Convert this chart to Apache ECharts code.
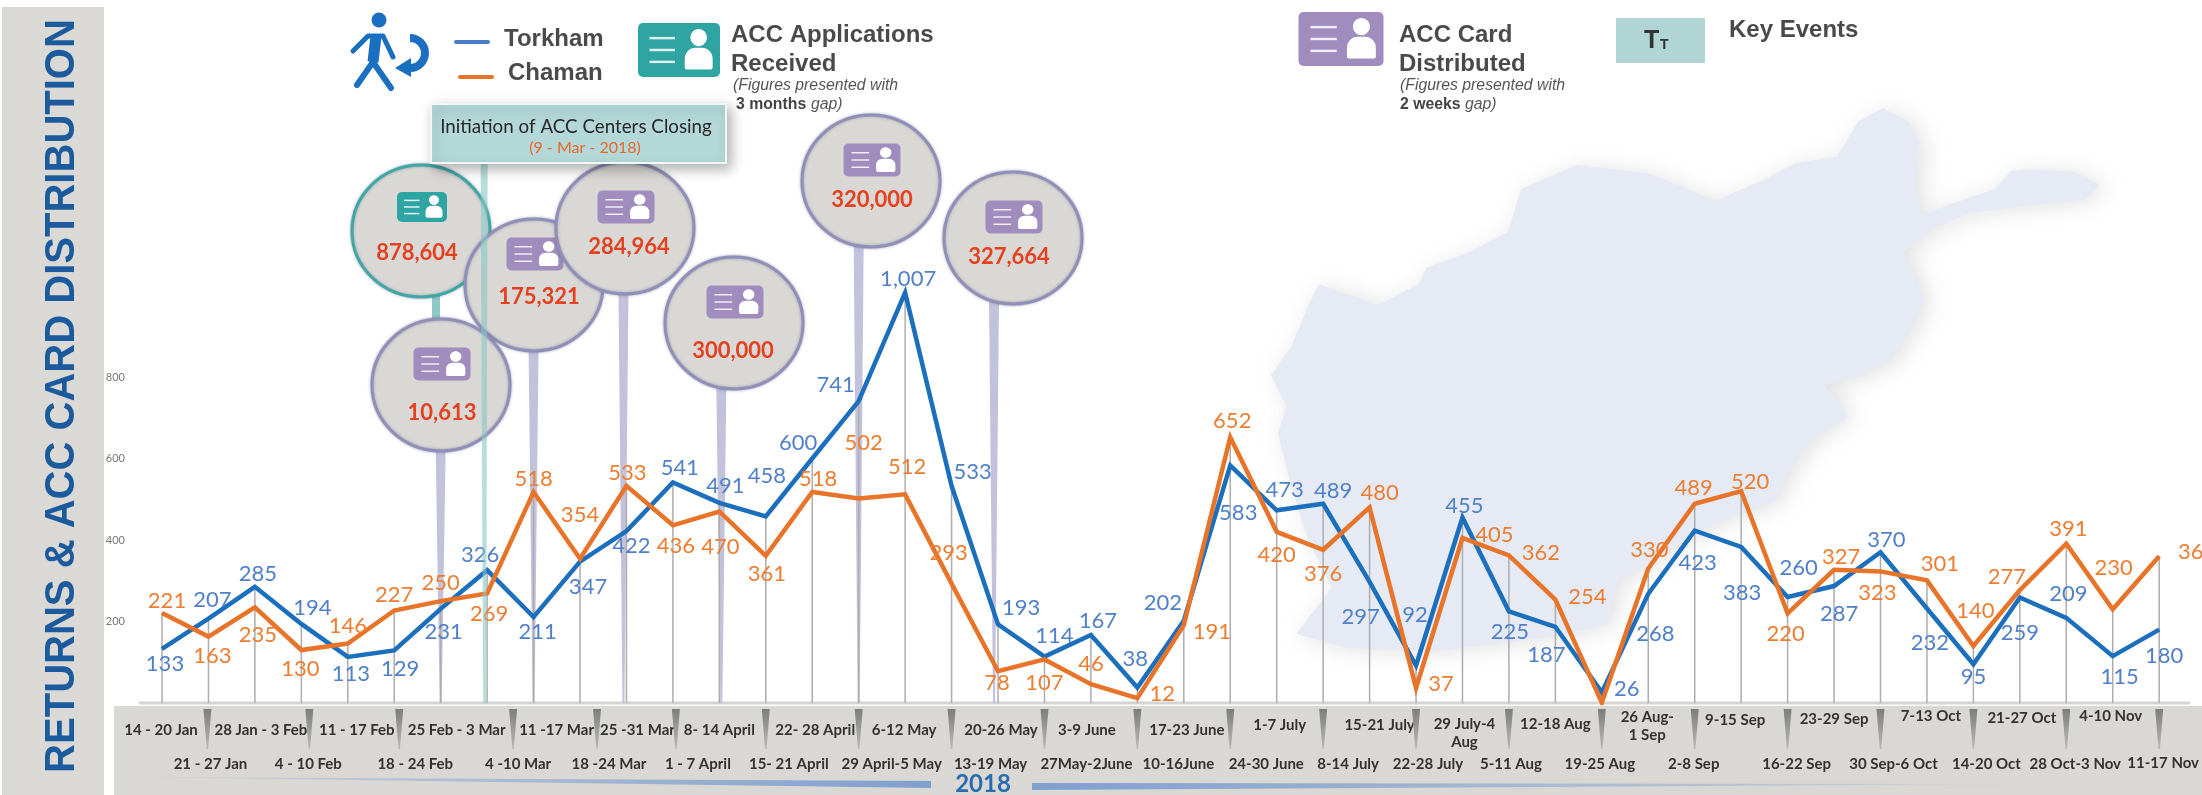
<!DOCTYPE html>
<html>
<head>
<meta charset="utf-8">
<title>Returns & ACC card distribution</title>
<script src="https://cdn.jsdelivr.net/npm/echarts@6/dist/echarts.min.js"></script>
<style>
html, body { margin: 0; padding: 0; background: #fff; }
#chart { width: 2202px; height: 795px; }
</style>
</head>
<body>
<div id="chart"></div>
<script>
// weekly periods of 2018, \n = label wraps in two lines
const weeks = ['14 - 20 Jan', '21 - 27 Jan', '28 Jan - 3 Feb', '4 - 10 Feb', '11 - 17 Feb', '18 - 24 Feb', '25 Feb - 3 Mar', '4 -10 Mar', '11 -17 Mar', '18 -24 Mar', '25 -31 Mar', '1 - 7 April', '8- 14 April', '15- 21 April', '22- 28 April', '29 April-5 May', '6-12 May', '13-19 May', '20-26 May', '27May-2June', '3-9 June', '10-16June', '17-23 June', '24-30 June', '1-7 July', '8-14 July', '15-21 July', '22-28 July', '29 July-4\nAug', '5-11 Aug', '12-18 Aug', '19-25 Aug', '26 Aug-\n1 Sep', '2-8 Sep', '9-15 Sep', '16-22 Sep', '23-29 Sep', '30 Sep-6 Oct', '7-13 Oct', '14-20 Oct', '21-27 Oct', '28 Oct-3 Nov', '4-10 Nov', '11-17 Nov'];
const torkham = [133, 207, 285, 194, 113, 129, 231, 326, 211, 347, 422, 541, 491, 458, 600, 741, 1007, 533, 193, 114, 167, 38, 202, 583, 473, 489, 297, 92, 455, 225, 187, 26, 268, 423, 383, 260, 287, 370, 232, 95, 259, 209, 115, 180];
const chaman = [221, 163, 235, 130, 146, 227, 250, 269, 518, 354, 533, 436, 470, 361, 518, 502, 512, 293, 78, 107, 46, 12, 191, 652, 420, 376, 480, 37, 405, 362, 254, 1, 330, 489, 520, 220, 327, 323, 301, 140, 277, 391, 230, 360];
const yTicks = [200, 400, 600, 800];

// the bubbles: figure, week it points to
const cardFigures = ['10,613', '175,321', '284,964', '300,000', '320,000', '327,664'];
const cardWeeks = [6, 8, 10, 12, 15, 18];
const applicationFigure = '878,604';
const eventWeek = 7;

// hand placed label offsets, the original is laid out by hand
const torkhamShift = [[3, 15], [4, -19], [3, -13], [11, -16], [3, 17], [6, 18], [3, 23], [-7, -15], [4, 15], [8, 25], [5, 15], [7, -15], [6, -17], [1, -40], [-14, -16], [-23, -16], [3, -14], [21, -14], [23, -16], [10, -21], [7, -14], [-2, -29], [-21, -18], [8, 47], [8, -20], [10, -13], [-9, 35], [-1, -51], [2, -12], [1, 21], [-9, 28], [25, -3], [7, 40], [3, 32], [1, 46], [11, -29], [5, 28], [6, -12], [3, 34], [0, 13], [0, 35], [2, -24], [7, 21], [5, 26]];
const chamanShift = [[5, -12], [4, 19], [3, 28], [-1, 19], [0, -18], [0, -16], [0, -18], [2, 21], [0, -13], [0, -44], [1, -13], [3, 21], [1, 35], [1, 18], [6, -13], [5, -56], [2, -27], [-3, -31], [-1, 12], [0, 24], [0, -20], [25, -4], [28, 7], [2, -16], [0, 23], [0, 24], [10, -14], [25, -4], [32, -3], [32, -3], [32, -3], null, [1, -19], [-1, -16], [9, -9], [-2, 21], [7, -13], [-3, 22], [13, -16], [2, -35], [-13, -13], [2, -15], [1, -41], [38, -4]];
const weekLabelDx = [-1, 2, 6, 7, 9, 21, 16, 31, 23, 29, 11, 25, 0, 23, 3, 33, -1, 39, 3, 42, -4, 41, 3, 36, 3, 25, 10, 12, 2, 2, 0, -2, -1, -1, -6, 9, 0, 13, 4, 13, 2, 9, -2, 4];
const weekLabelY = [730, 764, 730, 764, 730, 764, 730, 764, 730, 764, 730, 764, 730, 764, 730, 764, 730, 764, 730, 764, 730, 764, 730, 764, 725, 764, 725, 764, 724, 764, 724, 764, 717, 764, 720, 764, 719, 764, 716, 764, 718, 764, 716, 763];
const wedgeShift = [-1, 8, 5, 26, 17, 3];

const blueLine = '#1b6fbd';
const orangeLine = '#e8742a';
const blueText = '#4f80c9';
const orangeText = '#ed7d31';
const labelFont = 'Lato';
const headFont = '"Liberation Sans"';

const weekRich = {};
const weekFormat = (name, i) => {
    const dx = weekLabelDx[i];
    const left = dx > 0 ? dx * 2 : 0;
    const right = dx < 0 ? -dx * 2 : 0;
    // a thin empty line on top pushes the text down to its row
    weekRich['g' + i] = { fontSize: 1, lineHeight: weekLabelY[i] - 714, color: 'transparent' };
    weekRich['w' + i] = { fontFamily: labelFont, fontWeight: 'bold', fontSize: 15, color: '#33322f', lineHeight: 18, padding: [0, right, 0, left] };
    const rows = name.split('\n').map(p => '{w' + i + '|' + p + '}');
    return ['{g' + i + '|\u00a0}'].concat(rows).join('\n');
};
const weekText = weeks.map(weekFormat);

const pointLabels = (values, shifts, color) => values.map((v, i) => ({
    value: v,
    label: shifts[i] ? {
        show: true,
        position: 'inside',
        offset: shifts[i],
        color: color,
        fontFamily: labelFont,
        fontSize: 22,
        formatter: () => v >= 1000 ? v.toLocaleString('en-US') : String(v)
    } : { show: false }
}));

const chart = echarts.init(document.getElementById('chart'));

chart.setOption({
    backgroundColor: '#fff',
    animation: false,
    grid: { left: 162, right: 41, top: 51, bottom: 92 },
    xAxis: {
        type: 'category',
        boundaryGap: false,
        data: weeks,
        axisLine: { show: false },
        axisTick: { show: false },
        axisLabel: {
            interval: 0,
            margin: 2,
            hideOverlap: false,
            formatter: (v, i) => weekText[i],
            rich: weekRich
        }
    },
    yAxis: {
        type: 'value',
        min: 0,
        max: 1600,
        interval: 200,
        splitLine: { show: false },
        axisLine: { show: false },
        axisTick: { show: false },
        axisLabel: {
            margin: 37,
            color: '#777',
            fontFamily: labelFont,
            fontSize: 11,
            formatter: v => yTicks.includes(v) ? String(v) : ''
        }
    },
    series: [
        {
            // drop lines from each week up to the highest point
            type: 'custom',
            z: 1,
            silent: true,
            data: torkham.map((t, i) => [i, Math.max(t, chaman[i])]),
            renderItem: (params, api) => {
                const a = api.coord([api.value(0), 0]);
                const b = api.coord([api.value(0), api.value(1)]);
                return {
                    type: 'line',
                    shape: { x1: a[0], y1: a[1], x2: b[0], y2: b[1] },
                    style: { stroke: '#adadad', lineWidth: 1.5 }
                };
            }
        },
        {
            // small wedges inside the grey band, every second week
            type: 'custom',
            z: 2,
            silent: true,
            clip: false,
            data: weeks.map((w, i) => [i, 0]).filter(d => d[0] % 2 === 1),
            renderItem: (params, api) => {
                const i = api.value(0);
                const p = api.coord([i, 0]);
                const x = p[0] + (wedgeShift[(i - 1) / 2] || 0);
                return {
                    type: 'polygon',
                    shape: { points: [[x - 4, p[1] + 6], [x + 4, p[1] + 6], [x + 0.7, p[1] + 46], [x - 0.7, p[1] + 46]] },
                    style: {
                        fill: new echarts.graphic.LinearGradient(0, 0, 0, 1, [
                            { offset: 0, color: '#7d7d7d' },
                            { offset: 1, color: '#b9b9b7' }
                        ])
                    }
                };
            }
        },
        {
            name: 'Torkham',
            type: 'line',
            z: 3,
            symbol: 'circle',
            symbolSize: 1,
            showSymbol: true,
            showAllSymbol: true,
            lineStyle: { color: blueLine, width: 4.5, join: 'miter' },
            itemStyle: { color: blueLine },
            data: pointLabels(torkham, torkhamShift, blueText)
        },
        {
            name: 'Chaman',
            type: 'line',
            z: 4,
            symbol: 'circle',
            symbolSize: 1,
            showSymbol: true,
            showAllSymbol: true,
            lineStyle: { color: orangeLine, width: 4.5, join: 'miter' },
            itemStyle: { color: orangeLine },
            data: pointLabels(chaman, chamanShift, orangeText)
        }
    ]
});

// --- everything around the plot ---

const text = (str, x, y, font, fill, align, z) => ({
    type: 'text',
    z: z || 6,
    style: { text: str, x: x, y: y, font: font, fill: fill, textAlign: align || 'left', textVerticalAlign: 'middle' }
});

// card icon used in legend and bubbles
const card = (cx, cy, w, h, color, z) => {
    const x = cx - w / 2;
    const y = cy - h / 2;
    const lines = [0.28, 0.5, 0.72].map(k => ({
        type: 'line',
        z: z,
        shape: { x1: x + w * 0.14, y1: y + h * k, x2: x + w * 0.45, y2: y + h * k },
        style: { stroke: '#fff', lineWidth: Math.max(1.5, h * 0.045), opacity: 0.85 }
    }));
    return [
        { type: 'rect', z: z, shape: { x: x, y: y, width: w, height: h, r: 5 }, style: { fill: color } },
        ...lines,
        { type: 'ellipse', z: z, shape: { cx: x + w * 0.74, cy: y + h * 0.27, rx: w * 0.1, ry: h * 0.16 }, style: { fill: '#fff' } },
        { type: 'rect', z: z, shape: { x: x + w * 0.57, y: y + h * 0.46, width: w * 0.34, height: h * 0.4, r: [h * 0.2, h * 0.2, 2, 2] }, style: { fill: '#fff' } }
    ];
};

const bubble = (cx, cy, label, color, stroke, iconDy, textDx, textDy, z) => [
    {
        type: 'ellipse',
        z: z,
        shape: { cx: cx, cy: cy, rx: 69, ry: 66 },
        style: { fill: '#d9d8d5', stroke: stroke, lineWidth: 3, shadowBlur: 3, shadowColor: 'rgba(90,90,130,0.5)' }
    },
    ...card(cx + 1, cy + iconDy, stroke === '#3da8a4' ? 50 : 57, stroke === '#3da8a4' ? 30 : 33, color, z),
    text(label, cx + textDx, cy + textDy, 'bold 22px ' + labelFont, '#e5401f', 'center', z)
];

const mapOutline = [[1883, 108], [1909, 122], [1919, 141], [1916, 185], [1921, 215], [1954, 203], [1995, 189], [2011, 171], [2030, 169], [2075, 172], [2100, 185], [2085, 200], [2030, 205], [1970, 213], [1934, 228], [1903, 252], [1916, 276], [1924, 300], [1914, 323], [1893, 359], [1863, 375], [1824, 385], [1840, 402], [1847, 418], [1817, 434], [1791, 466], [1776, 501], [1720, 521], [1674, 545], [1653, 561], [1618, 580], [1608, 624], [1557, 636], [1434, 651], [1347, 648], [1296, 634], [1332, 588], [1307, 537], [1291, 485], [1278, 434], [1286, 406], [1271, 375], [1291, 347], [1309, 304], [1319, 284], [1378, 305], [1419, 284], [1426, 268], [1470, 252], [1508, 232], [1521, 189], [1577, 165], [1648, 173], [1715, 201], [1761, 181], [1796, 163], [1837, 157], [1858, 122]];

const baseY = chart.convertToPixel({ yAxisIndex: 0 }, 0);
const weekX = i => chart.convertToPixel({ xAxisIndex: 0 }, i);
const purple = '#a08dbd';
const purpleEdge = '#8f8fb8';
const teal = '#2fa5a3';

// tapered stem from under a bubble to the baseline
const stem = (x, top, color) => ({
    type: 'polygon',
    z: 0,
    shape: { points: [[x - 5, top], [x + 5, top], [x + 1, baseY], [x - 1, baseY]] },
    style: { fill: color }
});

const bubbleSpots = [[441, 385, -21, 1, 28], [534, 285, -31, 5, 12], [625, 228, -21, 4, 19], [734, 323, -21, -1, 28], [871, 181, -21, 1, 19], [1013, 238, -21, -4, 19]];
const stemShift = [0, 0, -3, 2, 0, -4];

const elements = [
    // afghanistan in the back
    {
        type: 'polygon',
        z: -5,
        shape: { points: mapOutline },
        style: { fill: '#e5eaf4', shadowBlur: 22, shadowColor: 'rgba(170,170,170,0.35)', shadowOffsetX: 6, shadowOffsetY: 2 }
    },
    // left title panel and bottom band
    { type: 'rect', z: -4, shape: { x: 2, y: 7, width: 102, height: 788 }, style: { fill: '#dad9d5' } },
    { type: 'rect', z: -4, shape: { x: 114, y: 706, width: 2088, height: 89 }, style: { fill: '#d9d8d4' } },
    { type: 'line', z: -3, shape: { x1: 139, y1: baseY, x2: 2190, y2: baseY }, style: { stroke: '#d4d4d2', lineWidth: 3 } },
    {
        type: 'text',
        z: 6,
        x: 62,
        y: 396,
        rotation: Math.PI / 2,
        scaleX: 0.953,
        style: { text: 'RETURNS & ACC CARD DISTRIBUTION', x: 0, y: 0, font: 'bold 42px ' + headFont, fill: '#1c5a9e', textAlign: 'center', textVerticalAlign: 'middle' }
    },
    // year and its arrows
    text('2018', 983, 784, 'bold 24px ' + labelFont, '#2b6cb0', 'center'),
    {
        type: 'polygon',
        z: -2,
        shape: { points: [[132, 777], [931, 781], [931, 788]] },
        style: { fill: new echarts.graphic.LinearGradient(0, 0, 1, 0, [{ offset: 0, color: 'rgba(127,159,208,0.1)' }, { offset: 1, color: '#7f9fd0' }]) }
    },
    {
        type: 'polygon',
        z: -2,
        shape: { points: [[1032, 783], [2044, 784], [1032, 790]] },
        style: { fill: new echarts.graphic.LinearGradient(0, 0, 1, 0, [{ offset: 0, color: '#7f9fd0' }, { offset: 1, color: 'rgba(127,159,208,0.1)' }]) }
    },
    // legend: person, lines
    { type: 'circle', z: 6, shape: { cx: 379, cy: 20, r: 7.5 }, style: { fill: '#1a6fc0' } },
    { type: 'polyline', z: 6, shape: { points: [[353, 51], [368, 36], [383, 36], [393, 57]] }, style: { stroke: '#1a6fc0', fill: null, lineWidth: 5, lineCap: 'round', lineJoin: 'round' } },
    { type: 'polyline', z: 6, shape: { points: [[376, 36], [373, 62]] }, style: { stroke: '#1a6fc0', fill: null, lineWidth: 11 } },
    { type: 'polyline', z: 6, shape: { points: [[357, 85], [373, 62], [391, 88]] }, style: { stroke: '#1a6fc0', fill: null, lineWidth: 6, lineCap: 'round', lineJoin: 'round' } },
    { type: 'arc', z: 6, shape: { cx: 410, cy: 53, r: 15, startAngle: -Math.PI / 2, endAngle: Math.PI / 2, clockwise: true }, style: { stroke: '#1a6fc0', fill: null, lineWidth: 8 } },
    { type: 'polygon', z: 6, shape: { points: [[395, 68], [411, 58], [411, 77]] }, style: { fill: '#1a6fc0' } },
    { type: 'line', z: 6, shape: { x1: 456, y1: 42, x2: 488, y2: 42 }, style: { stroke: '#4a7cc8', lineWidth: 4, lineCap: 'round' } },
    { type: 'line', z: 6, shape: { x1: 460, y1: 77, x2: 492, y2: 77 }, style: { stroke: orangeLine, lineWidth: 4, lineCap: 'round' } },
    text('Torkham', 504, 39, 'bold 24px ' + headFont, '#4a4a4a'),
    text('Chaman', 508, 73, 'bold 24px ' + headFont, '#4a4a4a'),
    // legend: applications
    ...card(679, 50, 82, 54, teal, 6),
    text('ACC Applications', 731, 35, 'bold 24px ' + headFont, '#4a4a4a'),
    text('Received', 731, 64, 'bold 24px ' + headFont, '#4a4a4a'),
    text('(Figures presented with', 733, 86, 'italic 15.8px ' + headFont, '#555'),
    text('3 months', 736, 105, 'bold 15.8px ' + headFont, '#444'),
    text('gap)', 811, 105, 'italic 15.8px ' + headFont, '#555'),
    // legend: cards
    ...card(1341, 39, 85, 54, purple, 6),
    text('ACC Card', 1399, 35, 'bold 24px ' + headFont, '#4a4a4a'),
    text('Distributed', 1399, 64, 'bold 24px ' + headFont, '#4a4a4a'),
    text('(Figures presented with', 1400, 86, 'italic 15.8px ' + headFont, '#555'),
    text('2 weeks', 1400, 105, 'bold 15.8px ' + headFont, '#444'),
    text('gap)', 1465, 105, 'italic 15.8px ' + headFont, '#555'),
    // legend: key events
    { type: 'rect', z: 6, shape: { x: 1616, y: 18, width: 89, height: 45 }, style: { fill: '#b0d5d4' } },
    text('T', 1644, 41, 'bold 25px ' + headFont, '#333'),
    text('T', 1660, 45, 'bold 14px ' + headFont, '#333'),
    text('Key Events', 1729, 30, 'bold 24px ' + headFont, '#4a4a4a'),
    // teal stem from the application bubble
    { type: 'rect', z: 0, shape: { x: 432, y: 296, width: 8, height: 24 }, style: { fill: '#8fc9c6' } }
];

cardWeeks.forEach((w, i) => elements.push(stem(weekX(w) + stemShift[i], bubbleSpots[i][1] + 64, '#c3c2dc')));

// bubbles stack like in the original: teal at the back
elements.push(...bubble(421, 231, applicationFigure, teal, '#3da8a4', -24, -4, 22, 7));
[1, 2, 0, 3, 4, 5].forEach((k, n) => {
    const s = bubbleSpots[k];
    elements.push(...bubble(s[0], s[1], cardFigures[k], purple, purpleEdge, s[2], s[3], s[4], 8 + n));
});

// key event marker goes over the bubbles
elements.push({
    type: 'polygon',
    z: 15,
    shape: { points: [[weekX(eventWeek) - 6.5, 163], [weekX(eventWeek) + 0.5, 163], [weekX(eventWeek) - 1, baseY], [weekX(eventWeek) - 4, baseY]] },
    style: { fill: 'rgba(135,200,196,0.6)' }
});
elements.push(
    {
        type: 'rect',
        z: 16,
        shape: { x: 431, y: 104, width: 295, height: 59 },
        style: { fill: '#b4d8d8', stroke: '#f2f6f6', lineWidth: 2, shadowBlur: 12, shadowOffsetX: 4, shadowOffsetY: 5, shadowColor: 'rgba(0,0,0,0.3)' }
    },
    text('Initiation of ACC Centers Closing', 576, 127, '18.8px ' + labelFont, '#262626', 'center', 17),
    text('(9 - Mar - 2018)', 585, 148, '16px ' + labelFont, '#e9672b', 'center', 17)
);

chart.setOption({ graphic: { elements: elements } });
</script>
</body>
</html>
